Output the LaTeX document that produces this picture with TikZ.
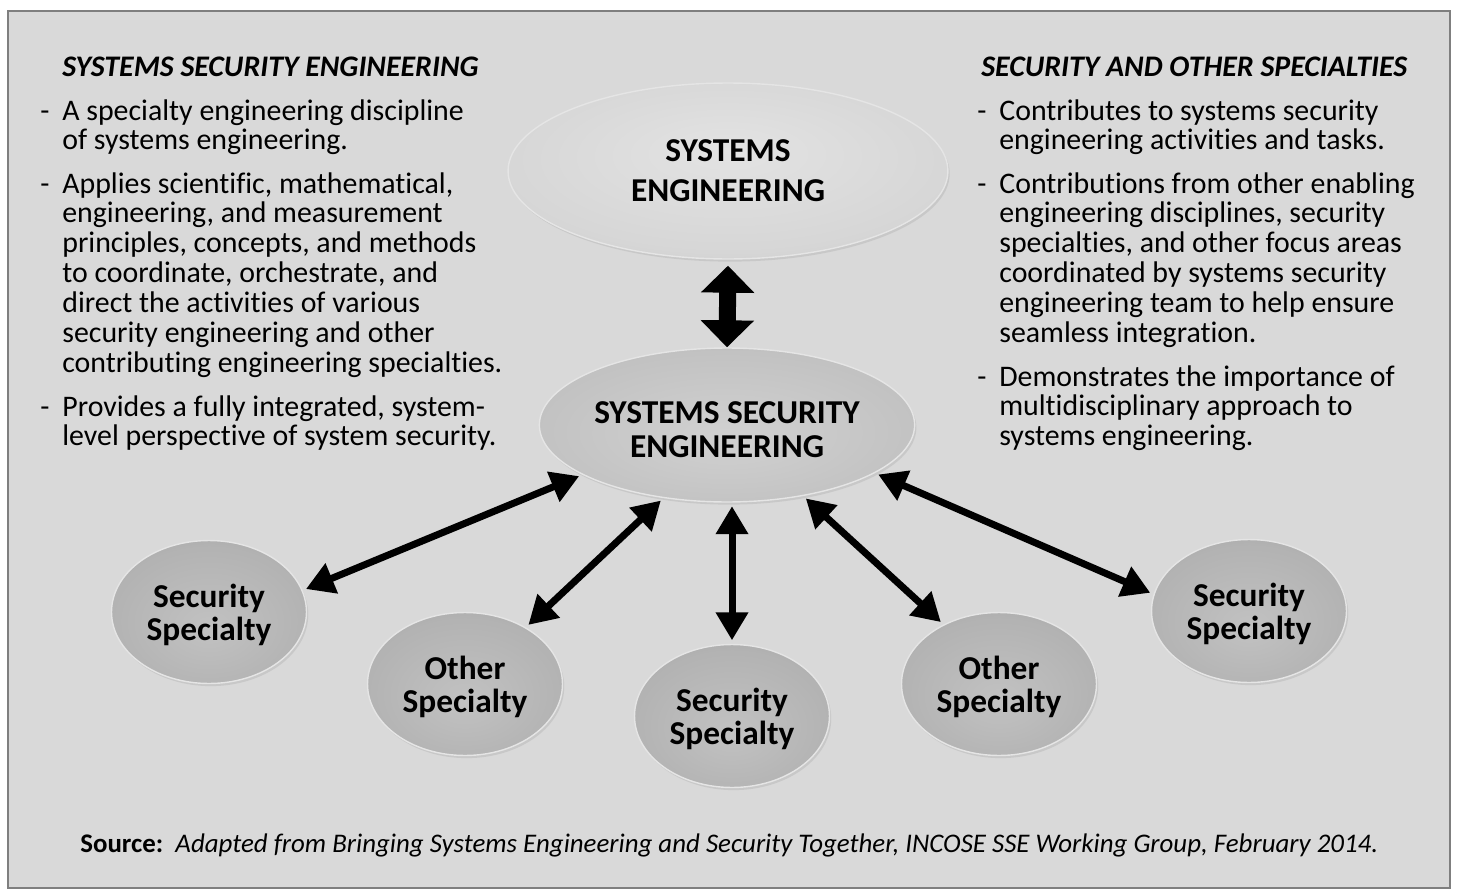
\documentclass[tikz,border=0pt]{standalone}
\usepackage{fontspec}
\setmainfont{Carlito}[Ligatures=NoCommon]
\usetikzlibrary{shapes.geometric,arrows.meta,shadows}
\definecolor{panel}{HTML}{D9D9D9}
\definecolor{framegray}{HTML}{7F7F7F}
% radial fills for the ovals
\pgfdeclareradialshading{ovaltop}{\pgfpoint{0bp}{6bp}}{color(0bp)=(black!11); color(26bp)=(black!16); color(42bp)=(black!27); color(50bp)=(black!40)}
\pgfdeclareradialshading{ovalmid}{\pgfpoint{0bp}{-4bp}}{color(0bp)=(black!18); color(26bp)=(black!24); color(42bp)=(black!35); color(50bp)=(black!46)}
\pgfdeclareradialshading{ovalsmall}{\pgfpoint{0bp}{-6bp}}{color(0bp)=(black!24); color(26bp)=(black!30); color(42bp)=(black!40); color(50bp)=(black!50)}
\newcommand{\bul}[1]{\begin{tabular}[t]{@{}p{0.44cm}@{}l@{}}-&#1\end{tabular}}

\begin{document}
\begin{tikzpicture}[x=0.02cm, y=-0.02cm,
  every node/.style={font=\fontsize{17}{17}\selectfont},
  head/.style={inner sep=0pt, anchor=base west, font=\fontsize{17}{17}\selectfont\bfseries\itshape},
  body/.style={inner sep=0pt, anchor=base west},
  oval/.style={ellipse, inner sep=0pt, align=center, draw=black!10, line width=0.8pt,
    drop shadow={shadow xshift=1pt, shadow yshift=-1.5pt, opacity=0.18}},
  link/.style={line width=0.14cm, {Triangle[length=0.56cm,width=0.62cm]}-{Triangle[length=0.56cm,width=0.62cm]}, shorten <=2pt, shorten >=2pt},
  biglink/.style={line width=0.34cm, {Triangle[length=0.54cm,width=1.04cm]}-{Triangle[length=0.54cm,width=1.04cm]}}]
  \useasboundingbox (0,0) rectangle (1458,896);
  \fill[white] (0,0) rectangle (1458,896);
  \draw[framegray, fill=panel, line width=1.2pt] (8,11) rectangle (1450,888);

  % Systems security engineering (left)
  \node[head] (lhead) at (62,76) {SYSTEMS SECURITY ENGINEERING};
  \node[body] (lb1) at (40,120) {\bul{A specialty engineering discipline\\&of systems engineering.}};
  \node[body] (lb2) at (40,193) {\bul{Applies scientific, mathematical,\\&engineering, and measurement\\&principles, concepts, and methods\\&to coordinate, orchestrate, and\\&direct the activities of various\\&security engineering and other\\&contributing engineering specialties.}};
  \node[body] (lb3) at (40,416) {\bul{Provides a fully integrated, system-\\&level perspective of system security.}};

  % Security and other specialties (right)
  \node[head] (rhead) at (981,76) {SECURITY AND OTHER SPECIALTIES};
  \node[body] (rb1) at (977,120) {\bul{Contributes to systems security\\&engineering activities and tasks.}};
  \node[body] (rb2) at (977,193) {\bul{Contributions from other enabling\\&engineering disciplines, security\\&specialties, and other focus areas\\&coordinated by systems security\\&engineering team to help ensure\\&seamless integration.}};
  \node[body] (rb3) at (977,386) {\bul{Demonstrates the importance of\\&multidisciplinary approach to\\&systems engineering.}};

  % Ovals
  \node[oval, shading=ovaltop, minimum width=8.8cm, minimum height=3.52cm,
    font=\fontsize{19}{22.8}\selectfont\bfseries] (se) at (728,171) {SYSTEMS\\ENGINEERING};
  \node[oval, shading=ovalmid, minimum width=7.4cm, minimum height=3.08cm, text depth=0pt,
    font=\fontsize{19}{18.8}\selectfont\bfseries] (sse) at (727,425) {\rule{0pt}{0.62cm}SYSTEMS SECURITY\\ENGINEERING};
  \foreach \nm/\x/\y/\kind in {ss1/209/612/Security, os1/465/684/Other, ss2/732/716/Security,
                               os2/999/684/Other, ss3/1249/611/Security} {
    \node[oval, shading=ovalsmall, minimum width=3.9cm, minimum height=2.86cm, text depth=0pt,
      font=\fontsize{19}{18.8}\selectfont\bfseries] (\nm) at (\x,\y) {\kind\\Specialty};
  }

  % Connectors
  \draw[biglink] (se.south) ++(0,6) coordinate (setip) (setip) -- (sse.north);
  \foreach \a/\b/\c in {199/ss1/13, 229/os1/43, 317/os2/133, 342/ss3/170} {
    \draw[link] (sse.\a) -- (\b.\c);
  }
  \draw[link] (ss2.north |- sse.south) -- (ss2.north);

  % Source
  \node[body, font=\fontsize{15.3}{17}\selectfont] (src) at (80,852) {\textbf{Source:}\ \ \textit{Adapted from Bringing Systems Engineering and Security Together, INCOSE SSE Working Group, February 2014.}};
\end{tikzpicture}
\end{document}
